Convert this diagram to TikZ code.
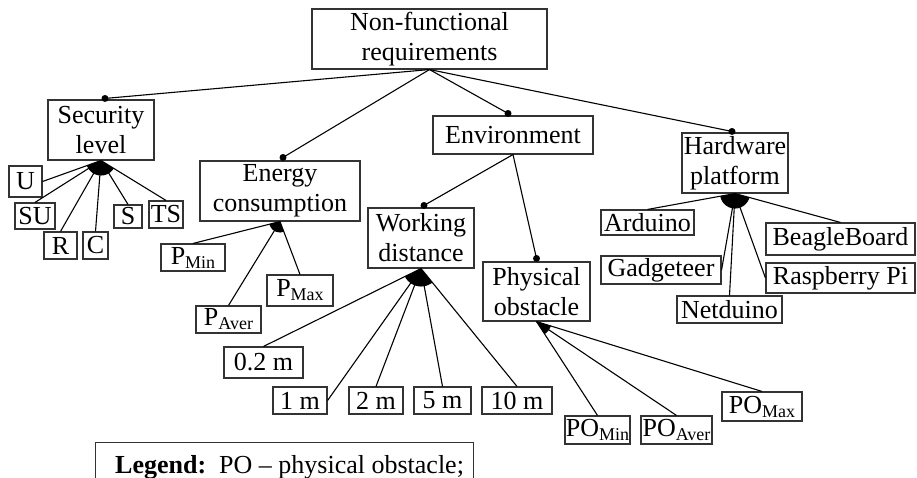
\documentclass[tikz,border=0pt]{standalone}
\usepackage{fontspec}
\setmainfont{Liberation Serif}
\usetikzlibrary{calc}

\tikzset{
  box/.style={draw=black!80, line width=1.1pt, inner sep=0pt, align=center,
              font=\fontsize{26}{30}\selectfont},
  wh/.style 2 args={minimum width=#1pt, minimum height=#2pt},
  link/.style={line width=1.1pt, black},
}
% feature name with a lowered, smaller qualifier
\newcommand{\featsub}[2]{#1\raisebox{-4pt}{\fontsize{18}{18}\selectfont #2}}
% filled sector between the outermost links of a group
\newcommand{\groupfan}[4]{%
  \begin{scope}
    \clip (#1) -- (#2) -- (#3) -- cycle;
    \fill (#1) circle (#4pt);
  \end{scope}}

\begin{document}
\begin{tikzpicture}[x=1pt, y=-1pt]
\useasboundingbox (0,0) rectangle (917,478);
\clip (0,0) rectangle (917,478);

% main features
\node[box, wh={235}{60}] (root)   at (429.5,39)  {Non-functional\\requirements};
\node[box, wh={106}{60}] (sec)    at (101,130)   {Security\\level};
\node[box, wh={160}{60}] (energy) at (280,191)   {Energy\\consumption};
\node[box, wh={160}{38}] (env)    at (513,135)   {Environment};
\node[box, wh={106}{60}] (hw)     at (735,163)   {Hardware\\platform};
\node[box, wh={106}{60}] (wd)     at (421,238)   {Working\\distance};
\node[box, wh={107}{59}] (po)     at (536.5,291.5) {Physical\\obstacle};

% security levels
\node[box, wh={33}{31}] (u)  at (25.5,181.5) {U};
\node[box, wh={40}{26}] (su) at (35,216)     {SU};
\node[box, wh={33}{27}] (r)  at (60.5,245.5) {R};
\node[box, wh={25}{27}] (c)  at (95.5,245.5) {C};
\node[box, wh={28}{23}] (s)  at (128,216.5)  {S};
\node[box, wh={34}{27}] (ts) at (166,214.5)  {TS};

% energy consumption
\node[box, wh={64}{27}] (pmin)  at (193,257.5)   {\featsub{P}{Min}};
\node[box, wh={65}{27}] (paver) at (228.5,319.5) {\featsub{P}{Aver}};
\node[box, wh={66}{31}] (pmax)  at (300,290.5)   {\featsub{P}{Max}};

% working distance
\node[box, wh={79}{31}] (d02) at (263.5,362.5) {0.2 m};
\node[box, wh={54}{27}] (d1)  at (300,400.5)   {1 m};
\node[box, wh={54}{27}] (d2)  at (376,400.5)   {2 m};
\node[box, wh={57}{27}] (d5)  at (442.5,400.5) {5 m};
\node[box, wh={70}{27}] (d10) at (517,400.5)   {10 m};

% physical obstacle
\node[box, wh={65}{28}] (pomin)  at (597.5,430)  {\featsub{PO}{Min}};
\node[box, wh={71}{28}] (poaver) at (676.5,430)  {\featsub{PO}{Aver}};
\node[box, wh={80}{29}] (pomax)  at (762,406.5)  {\featsub{PO}{Max}};

% hardware platforms
\node[box, wh={93}{25}]  (ard) at (647.5,222.5) {Arduino};
\node[box, wh={120}{28}] (gad) at (661,270)     {Gadgeteer};
\node[box, wh={105}{27}] (net) at (729.5,309.5) {Netduino};
\node[box, wh={149}{32}] (bb)  at (840.5,239)   {BeagleBoard};
\node[box, wh={149}{30}] (rpi) at (840.5,278)   {Raspberry Pi};

% legend
\node[draw=black!80, line width=1.1pt, anchor=north west, wh={378}{60}] (legendframe) at (95,442) {};
\node[anchor=base west, inner sep=0pt, font=\fontsize{26}{30}\selectfont] (legendtext) at (115,473)
  {\textbf{Legend:}\ \ PO -- physical obstacle;};

% mandatory markers on the sub-features
\coordinate (secdot)    at ($(sec.north)+(4,-1)$);
\coordinate (energydot) at ($(energy.north)+(3,-3)$);
\coordinate (envdot)    at ($(env.north)+(-5,-2)$);
\coordinate (hwdot)     at ($(hw.north)+(-3,-1)$);
\coordinate (wddot)     at ($(wd.north)+(3,-2)$);
\coordinate (podot)     at ($(po.north)+(0,-3)$);

\draw[link] (root.south) -- (secdot);
\draw[link] (root.south) -- (energydot);
\draw[link] (root.south) -- (envdot);
\draw[link] (root.south) -- (hwdot);
\draw[link] (env.south) -- (wddot);
\draw[link] (env.south) -- (podot);
\foreach \p in {secdot,energydot,envdot,hwdot,wddot,podot}
  \fill (\p) circle (3.5pt);

% groups
\groupfan{sec.south}{u.east}{ts.north}{15}
\draw[link] (sec.south) -- (u.east);
\draw[link] (sec.south) -- (su.north);
\draw[link] (sec.south) -- (r.north);
\draw[link] (sec.south) -- (c.north);
\draw[link] (sec.south) -- (s.north);
\draw[link] (sec.south) -- (ts.north);

\groupfan{energy.south}{pmin.north}{pmax.north}{11}
\draw[link] (energy.south) -- (pmin.north);
\draw[link] (energy.south) -- (paver.north);
\draw[link] (energy.south) -- (pmax.north);

\groupfan{wd.south}{d02.north}{d10.north}{18}
\draw[link] (wd.south) -- (d02.north);
\draw[link] (wd.south) -- (d1.east);
\draw[link] (wd.south) -- (d2.north);
\draw[link] (wd.south) -- (d5.north);
\draw[link] (wd.south) -- (d10.north);

\groupfan{po.south}{pomin.north}{pomax.north}{15}
\draw[link] (po.south) -- (pomin.north);
\draw[link] (po.south) -- (poaver.north);
\draw[link] (po.south) -- (pomax.north);

\groupfan{hw.south}{ard.north}{bb.north}{15}
\draw[link] (hw.south) -- (ard.north);
\draw[link] (hw.south) -- (gad.east);
\draw[link] (hw.south) -- (net.north);
\draw[link] (hw.south) -- (bb.north);
\draw[link] (hw.south) -- (rpi.west);
\end{tikzpicture}
\end{document}
